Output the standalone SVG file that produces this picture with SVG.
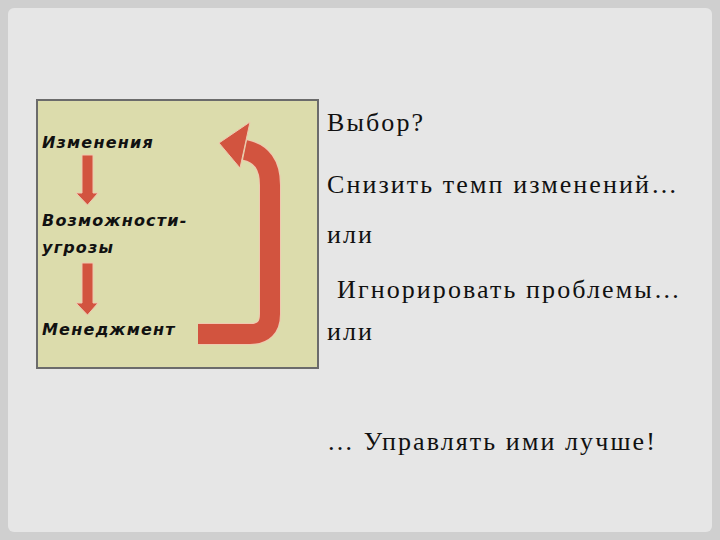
<svg xmlns="http://www.w3.org/2000/svg" width="720" height="540" viewBox="0 0 720 540">
<style>
.l{font-family:"DejaVu Sans",sans-serif;font-weight:bold;font-style:italic;font-size:16px;letter-spacing:1.2px;fill:#111}
.r{font-family:"Liberation Serif",serif;font-size:26px;letter-spacing:2.1px;fill:#111}
.a{fill:#d2543f;stroke:#f0c8b0;stroke-width:1}
</style>
<rect width="720" height="540" fill="#cfcfcf"/>
<rect x="8" y="8" width="704" height="524" rx="6" fill="#e6e6e6"/>
<rect x="37" y="100" width="281" height="268" fill="#dcdcac" stroke="#6b6b6b" stroke-width="2"/>
<g id="n1"><text class="l" x="42" y="148">Изменения</text></g>
<g id="n2"><text class="l" x="42" y="226">Возможности-</text><text class="l" x="42" y="253">угрозы</text></g>
<g id="n3"><text class="l" x="42" y="335">Менеджмент</text></g>
<g id="connectors">
<polygon class="a" points="82,155 93,155 93,193 98,193 87.5,205 76,193 82,193"/>
<polygon class="a" points="82,263 93,263 93,303 98,303 87.5,315 76,303 82,303"/>
<path d="M198,334 H250 Q270,334 270,314 V185 Q270,155 245,150" fill="none" stroke="#f0c8b0" stroke-width="22"/>
<path d="M198,334 H250 Q270,334 270,314 V185 Q270,155 245,150" fill="none" stroke="#d2543f" stroke-width="20"/>
<polygon class="a" points="219,143 250,122 240,168"/>
</g>
<g id="t">
<text class="r" x="327" y="131">Выбор?</text>
<text class="r" x="327" y="193">Снизить темп изменений…</text>
<text class="r" x="327" y="243">или</text>
<text class="r" x="337" y="298">Игнорировать проблемы…</text>
<text class="r" x="327" y="340">или</text>
<text class="r" x="327" y="450">… Управлять ими лучше!</text>
</g>
</svg>
